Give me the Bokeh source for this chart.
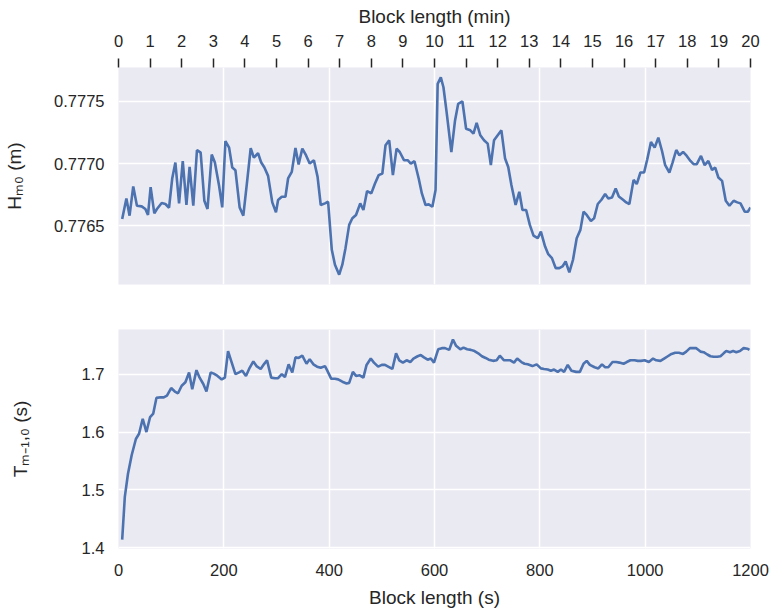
from bokeh.plotting import figure
from bokeh.models import Range1d, LinearAxis, FixedTicker, PrintfTickFormatter
from bokeh.layouts import column
from bokeh.embed import file_html
from bokeh.resources import INLINE

# ---------------- data ----------------
block_s_hm0 = [7, 15, 21, 28, 35, 44, 51, 56, 61, 68, 73, 82, 89, 96, 102, 108, 115, 122, 129, 135,
               142, 149, 156, 163, 169, 177, 183, 191, 197, 203, 210, 216, 222, 230, 237, 244, 251, 257, 265, 271,
               277, 284, 292, 299, 303, 310, 317, 322, 329, 336, 342, 349, 356, 363, 371, 378, 384, 392, 398, 405,
               411, 419, 425, 431, 438, 444, 451, 459, 465, 472, 480, 487, 494, 501, 507, 514, 521, 528, 534, 542,
               549, 555, 562, 570, 576, 583, 589, 596, 602, 606, 612, 617, 623, 632, 639, 645, 653, 660, 668, 674,
               680, 687, 694, 701, 707, 713, 720, 727, 734, 740, 746, 754, 761, 767, 774, 781, 788, 796, 802, 810,
               816, 823, 830, 837, 843, 849, 856, 863, 870, 877, 883, 889, 897, 903, 910, 917, 924, 930, 937, 944,
               950, 958, 964, 970, 978, 984, 991, 998, 1004, 1011, 1018, 1025, 1032, 1038, 1046, 1052, 1059, 1065, 1072, 1079,
               1086, 1092, 1098, 1106, 1113, 1120, 1127, 1133, 1139, 1146, 1153, 1160, 1168, 1175, 1181, 1189, 1195, 1200]
hm0 = [0.776555, 0.776720, 0.776581, 0.776816, 0.776661, 0.776656, 0.776635, 0.776587, 0.776811, 0.776600,
       0.776635, 0.776683, 0.776675, 0.776645, 0.776880, 0.777008, 0.776680, 0.777019, 0.776667, 0.776973,
       0.776661, 0.777109, 0.777088, 0.776701, 0.776635, 0.777072, 0.777008, 0.776821, 0.776648, 0.777181,
       0.777128, 0.776968, 0.776947, 0.776648, 0.776581, 0.776848, 0.777123, 0.777048, 0.777083, 0.777008,
       0.776968, 0.776901, 0.776688, 0.776608, 0.776707, 0.776733, 0.776733, 0.776880, 0.776933, 0.777125,
       0.776992, 0.777120, 0.777067, 0.777000, 0.777027, 0.776893, 0.776667, 0.776680, 0.776693, 0.776307,
       0.776187, 0.776107, 0.776187, 0.776320, 0.776507, 0.776560, 0.776587, 0.776680, 0.776627, 0.776779,
       0.776760, 0.776840, 0.776907, 0.776920, 0.777147, 0.777187, 0.776907, 0.777120, 0.777093, 0.777027,
       0.777027, 0.777000, 0.777019, 0.776880, 0.776760, 0.776667, 0.776672, 0.776653, 0.776787, 0.777640,
       0.777693, 0.777613, 0.777413, 0.777093, 0.777347, 0.777480, 0.777499, 0.777280, 0.777267, 0.777240,
       0.777328, 0.777227, 0.777187, 0.777160, 0.776987, 0.777187, 0.777227, 0.777267, 0.777040, 0.776973,
       0.776827, 0.776667, 0.776773, 0.776627, 0.776627, 0.776507, 0.776421, 0.776400, 0.776453, 0.776333,
       0.776272, 0.776240, 0.776160, 0.776160, 0.776173, 0.776213, 0.776125, 0.776227, 0.776400, 0.776467,
       0.776613, 0.776587, 0.776539, 0.776560, 0.776675, 0.776709, 0.776755, 0.776720, 0.776728, 0.776800,
       0.776736, 0.776709, 0.776688, 0.776675, 0.776869, 0.776835, 0.776928, 0.776928, 0.777035, 0.777173,
       0.777128, 0.777208, 0.777101, 0.776987, 0.776928, 0.777008, 0.777109, 0.777067, 0.777093, 0.777061,
       0.777021, 0.776995, 0.776995, 0.777061, 0.776987, 0.777021, 0.776949, 0.776968, 0.776888, 0.776861,
       0.776701, 0.776661, 0.776701, 0.776688, 0.776680, 0.776613, 0.776613, 0.776648]

block_s_tm = [7, 12, 18, 25, 33, 39, 46, 53, 60, 66, 72, 80, 86, 92, 100, 107, 113, 120, 127, 134,
              140, 148, 154, 161, 167, 175, 181, 188, 196, 202, 208, 215, 222, 229, 235, 242, 249, 256, 262, 270,
              276, 282, 290, 297, 303, 310, 316, 323, 330, 336, 342, 349, 357, 363, 370, 377, 384, 392, 396, 404,
              411, 417, 425, 433, 438, 445, 451, 458, 465, 471, 479, 485, 493, 500, 506, 512, 520, 527, 533, 540,
              547, 554, 560, 568, 574, 580, 587, 593, 599, 607, 614, 620, 628, 635, 641, 649, 655, 662, 669, 676,
              683, 690, 697, 703, 711, 718, 724, 732, 738, 744, 751, 757, 765, 771, 777, 786, 794, 802, 808, 815,
              821, 827, 834, 840, 846, 853, 860, 869, 876, 883, 889, 895, 904, 911, 918, 924, 930, 938, 945, 951,
              959, 965, 972, 980, 986, 992, 999, 1007, 1015, 1021, 1029, 1036, 1043, 1050, 1057, 1064, 1072, 1078, 1085, 1091,
              1097, 1105, 1111, 1118, 1124, 1130, 1137, 1143, 1149, 1154, 1161, 1167, 1173, 1180, 1187, 1194, 1198]
tm10 = [1.414, 1.488, 1.528, 1.560, 1.588, 1.597, 1.623, 1.600, 1.626, 1.632,
        1.659, 1.660, 1.660, 1.663, 1.676, 1.670, 1.667, 1.680, 1.686, 1.703,
        1.674, 1.707, 1.694, 1.683, 1.670, 1.703, 1.701, 1.697, 1.691, 1.694,
        1.740, 1.720, 1.700, 1.703, 1.706, 1.697, 1.711, 1.722, 1.714, 1.709,
        1.717, 1.724, 1.694, 1.693, 1.693, 1.700, 1.695, 1.717, 1.703, 1.729,
        1.728, 1.732, 1.718, 1.726, 1.717, 1.713, 1.711, 1.714, 1.707, 1.692,
        1.692, 1.691, 1.687, 1.684, 1.685, 1.704, 1.697, 1.698, 1.694, 1.716,
        1.727, 1.720, 1.713, 1.716, 1.716, 1.713, 1.709, 1.736, 1.724, 1.720,
        1.724, 1.721, 1.727, 1.731, 1.733, 1.729, 1.725, 1.727, 1.720, 1.743,
        1.745, 1.745, 1.742, 1.760, 1.749, 1.743, 1.746, 1.743, 1.742, 1.740,
        1.736, 1.731, 1.728, 1.725, 1.723, 1.724, 1.732, 1.724, 1.724, 1.724,
        1.720, 1.727, 1.721, 1.718, 1.717, 1.714, 1.717, 1.710, 1.709, 1.708,
        1.706, 1.708, 1.704, 1.708, 1.704, 1.716, 1.706, 1.704, 1.704, 1.718,
        1.723, 1.716, 1.712, 1.710, 1.717, 1.712, 1.712, 1.721, 1.721, 1.720,
        1.718, 1.721, 1.724, 1.724, 1.723, 1.723, 1.724, 1.721, 1.727, 1.724,
        1.723, 1.727, 1.731, 1.735, 1.737, 1.737, 1.735, 1.739, 1.745, 1.745,
        1.745, 1.739, 1.738, 1.734, 1.731, 1.730, 1.730, 1.731, 1.736, 1.740,
        1.738, 1.740, 1.738, 1.740, 1.745, 1.744, 1.742]

x_ticks_s = [0, 200, 400, 600, 800, 1000, 1200]
x_ticks_min = list(range(0, 21))
hm0_ticks = [0.7765, 0.7770, 0.7775]
tm_ticks = [1.4, 1.5, 1.6, 1.7]

# ---------------- style ----------------
FONT = "Liberation Sans"
TXT = "#262626"
BG = "#EAEAF2"
BLUE = "#4C72B0"
TICK_SIZE = "16.5px"
LABEL_SIZE = "19px"


def style_axis(ax, label_standoff, tick_standoff):
    ax.axis_line_color = None
    ax.major_tick_line_color = None
    ax.minor_tick_line_color = None
    ax.major_tick_out = 0
    ax.major_tick_in = 0
    ax.major_label_text_font = FONT
    ax.major_label_text_font_size = TICK_SIZE
    ax.major_label_text_color = TXT
    ax.major_label_standoff = tick_standoff
    ax.axis_label_text_font = FONT
    ax.axis_label_text_font_size = LABEL_SIZE
    ax.axis_label_text_font_style = "normal"
    ax.axis_label_text_color = TXT
    ax.axis_label_standoff = label_standoff


def style_fig(p):
    p.background_fill_color = BG
    p.border_fill_color = "white"
    p.outline_line_color = None
    p.xgrid.grid_line_color = "white"
    p.ygrid.grid_line_color = "white"
    p.xgrid.grid_line_width = 1.5
    p.ygrid.grid_line_width = 1.5
    p.xgrid.ticker = FixedTicker(ticks=x_ticks_s)


x_range = Range1d(0, 1200)

# ---------------- top panel ----------------
top = figure(frame_width=632, frame_height=217, x_range=x_range,
             y_range=Range1d(0.776028, 0.777772),
             output_backend="svg", toolbar_location=None,
             min_border_left=118, min_border_right=25, min_border_top=67, min_border_bottom=22)
style_fig(top)
top.ygrid.ticker = FixedTicker(ticks=hm0_ticks)
top.xaxis.visible = False
top.yaxis.ticker = FixedTicker(ticks=hm0_ticks)
top.yaxis.formatter = PrintfTickFormatter(format="%.4f")
top.yaxis.axis_label = "Hₘ₀ (m)"
style_axis(top.yaxis[0], 26, 14)

top.extra_x_ranges = {"minutes": Range1d(0, 20)}
ax_min = LinearAxis(x_range_name="minutes", ticker=FixedTicker(ticks=x_ticks_min),
                    axis_label="Block length (min)")
style_axis(ax_min, 5, 12)
ax_min.major_tick_line_color = TXT
ax_min.major_tick_line_width = 1.5
ax_min.major_tick_out = 9
top.add_layout(ax_min, "above")

top.line(block_s_hm0, hm0, line_color=BLUE, line_width=2.6)

# ---------------- bottom panel ----------------
bot = figure(frame_width=632, frame_height=219, x_range=x_range,
             y_range=Range1d(1.3988, 1.7772),
             output_backend="svg", toolbar_location=None,
             min_border_left=118, min_border_right=25, min_border_top=23, min_border_bottom=66)
style_fig(bot)
bot.ygrid.ticker = FixedTicker(ticks=tm_ticks)
bot.xaxis.ticker = FixedTicker(ticks=x_ticks_s)
bot.xaxis.axis_label = "Block length (s)"
style_axis(bot.xaxis[0], 8, 15)
bot.yaxis.ticker = FixedTicker(ticks=tm_ticks)
bot.yaxis.formatter = PrintfTickFormatter(format="%.1f")
bot.yaxis.axis_label = "Tₘ₋₁,₀ (s)"
style_axis(bot.yaxis[0], 48, 14)

bot.line(block_s_tm, tm10, line_color=BLUE, line_width=2.6)

layout = column(top, bot, spacing=0)
open("out.html", "w").write(file_html(layout, INLINE))
